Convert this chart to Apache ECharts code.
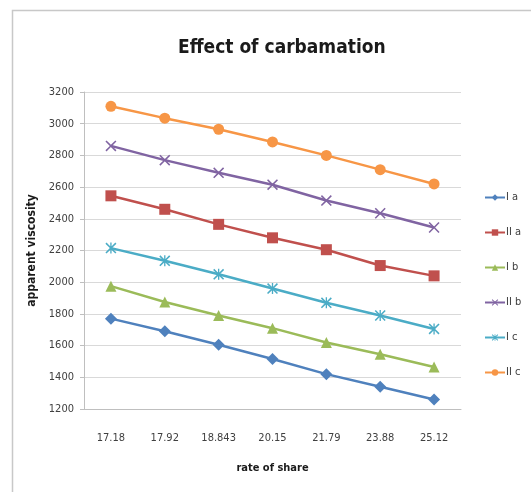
<!DOCTYPE html>
<html>
<head>
<meta charset="utf-8">
<script src="https://cdn.jsdelivr.net/npm/echarts@6/dist/echarts.min.js"></script>
<style>
html,body{margin:0;padding:0;background:#fff;}
#chart{width:531px;height:492px;}
</style>
</head>
<body>
<div id="chart"></div>
<script>
const categories = ['17.18', '17.92', '18.843', '20.15', '21.79', '23.88', '25.12'];
const seriesNames = ['I a', 'II a', 'I b', 'II b', 'I c', 'II c'];
const Ia  = [1770, 1690, 1605, 1515, 1420, 1340, 1260];
const IIa = [2545, 2460, 2365, 2280, 2205, 2105, 2040];
const Ib  = [1975, 1875, 1790, 1710, 1620, 1545, 1465];
const IIb = [2860, 2770, 2690, 2615, 2515, 2435, 2345];
const Ic  = [2215, 2135, 2050, 1960, 1870, 1790, 1705];
const IIc = [3110, 3035, 2965, 2885, 2800, 2710, 2620];
const yTicks = { min: 1200, max: 3200, interval: 200 };

const FONT = "'DejaVu Sans Condensed', 'Liberation Sans Narrow', sans-serif";
const xPath = 'path://M0,1 L1,0 L5,4 L9,0 L10,1 L6,5 L10,9 L9,10 L5,6 L1,10 L0,9 L4,5 Z';
const starPath = 'path://M0,1 L1,0 L5,4 L9,0 L10,1 L6,5 L10,9 L9,10 L5,6 L1,10 L0,9 L4,5 Z M4.4,0 L5.6,0 L5.6,10 L4.4,10 Z';

const styles = [
  { data: Ia,  color: '#4F81BD', symbol: 'diamond',  size: 12 },
  { data: IIa, color: '#C0504D', symbol: 'rect',     size: 11 },
  { data: Ib,  color: '#9BBB59', symbol: 'triangle', size: 11 },
  { data: IIb, color: '#8064A2', symbol: xPath,      size: 11 },
  { data: Ic,  color: '#4BACC6', symbol: starPath,   size: 11 },
  { data: IIc, color: '#F79646', symbol: 'circle',   size: 11 }
];

const chart = echarts.init(document.getElementById('chart'), null, { renderer: 'canvas' });
chart.setOption({
  animation: false,
  backgroundColor: '#fff',
  graphic: [{
    type: 'rect', silent: true,
    shape: { x: 12.5, y: 10.5, width: 700, height: 700 },
    style: { fill: 'none', stroke: '#c8c8c8', lineWidth: 1.5 }
  }],
  title: {
    text: 'Effect of carbamation',
    left: 173, top: 34,
    textStyle: { fontFamily: FONT, fontWeight: 'bold', fontSize: 19, color: '#1a1a1a' }
  },
  legend: {
    orient: 'vertical',
    left: 479, top: 187,
    itemGap: 24,
    itemWidth: 20, itemHeight: 8,
    data: seriesNames,
    textStyle: { fontFamily: FONT, fontSize: 11, color: '#404040', padding: [0, 0, 0, -4] }
  },
  grid: { left: 84, right: 70, top: 92, bottom: 83, containLabel: false },
  xAxis: {
    type: 'category',
    data: categories,
    boundaryGap: true,
    name: 'rate of share',
    nameLocation: 'middle',
    nameGap: 54,
    nameTextStyle: { fontFamily: FONT, fontWeight: 'bold', fontSize: 11, color: '#1a1a1a' },
    axisLine: { lineStyle: { color: '#bfbfbf', width: 1 } },
    axisTick: { show: false },
    axisLabel: { fontFamily: FONT, fontSize: 11, color: '#404040', margin: 24 }
  },
  yAxis: {
    type: 'value',
    min: yTicks.min, max: yTicks.max, interval: yTicks.interval,
    name: 'apparent viscosity',
    nameLocation: 'middle',
    nameGap: 42,
    nameTextStyle: { fontFamily: FONT, fontWeight: 'bold', fontSize: 12, color: '#1a1a1a' },
    axisLine: { show: true, lineStyle: { color: '#bfbfbf', width: 1 } },
    axisTick: { show: true, length: 4, lineStyle: { color: '#bfbfbf' } },
    axisLabel: { fontFamily: FONT, fontSize: 11, color: '#404040', margin: 10, formatter: v => String(v) },
    splitLine: { lineStyle: { color: '#d9d9d9', width: 1 } }
  },
  series: styles.map((s, i) => ({
    name: seriesNames[i],
    type: 'line',
    data: s.data,
    symbol: s.symbol,
    symbolSize: s.size,
    lineStyle: { color: s.color, width: 2.5 },
    itemStyle: { color: s.color },
    z: 2
  }))
});
</script>
</body>
</html>
